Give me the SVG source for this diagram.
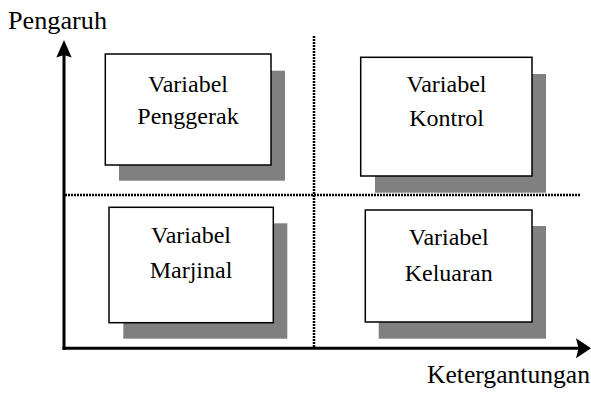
<svg xmlns="http://www.w3.org/2000/svg" width="591" height="399" viewBox="0 0 591 399">
<style>
.box{fill:#fff;stroke:#000;stroke-width:1.5}
.shadow{fill:#808080}
.dot{stroke:#000;stroke-width:2.5;stroke-dasharray:2 1;fill:none}
.axis{stroke:#000;stroke-width:3;fill:none}
.head{fill:#000}
.t{font-family:'Liberation Serif',serif;font-size:24px;fill:#000;text-anchor:middle}
.lab{font-family:'Liberation Serif',serif;font-size:25px;fill:#000}
</style>
<rect width="591" height="399" fill="#fff"/>
<g id="connectors">
<line class="dot" x1="314" y1="36" x2="314" y2="348"/>
<line class="dot" x1="65" y1="195" x2="580" y2="195"/>
<line class="axis" x1="64" y1="349.8" x2="64" y2="54"/>
<line class="axis" x1="62.5" y1="348.3" x2="579" y2="348.3"/>
<polygon class="head" points="64,40 71.7,57.5 64,55 56.3,57.5"/>
<polygon class="head" points="591,348.3 576,338.3 578.5,348.3 576,358.3"/>
</g>
<g id="label-pengaruh"><text class="lab" x="8" y="29.3" textLength="99" lengthAdjust="spacingAndGlyphs">Pengaruh</text></g>
<g id="label-ketergantungan"><text class="lab" x="427" y="383.3" textLength="163" lengthAdjust="spacingAndGlyphs">Ketergantungan</text></g>
<g id="penggerak">
<rect class="shadow" x="119" y="70.7" width="166" height="110"/>
<rect class="box" x="105.3" y="54" width="165.7" height="111"/>
<text class="t" x="188" y="91.7">Variabel</text>
<text class="t" x="188" y="123.5">Penggerak</text>
</g>
<g id="kontrol">
<rect class="shadow" x="375" y="74" width="171" height="118.7"/>
<rect class="box" x="360.7" y="57.3" width="171.3" height="118.7"/>
<text class="t" x="446.5" y="92">Variabel</text>
<text class="t" x="446.5" y="126">Kontrol</text>
</g>
<g id="marjinal">
<rect class="shadow" x="123.3" y="223.3" width="164" height="115.4"/>
<rect class="box" x="109" y="207.3" width="164.3" height="115.4"/>
<text class="t" x="191" y="243.3">Variabel</text>
<text class="t" x="191" y="278.3">Marjinal</text>
</g>
<g id="keluaran">
<rect class="shadow" x="378.7" y="226" width="167.3" height="112.7"/>
<rect class="box" x="365.3" y="210" width="166.7" height="112"/>
<text class="t" x="448.7" y="245">Variabel</text>
<text class="t" x="448.7" y="280.7">Keluaran</text>
</g>
</svg>
